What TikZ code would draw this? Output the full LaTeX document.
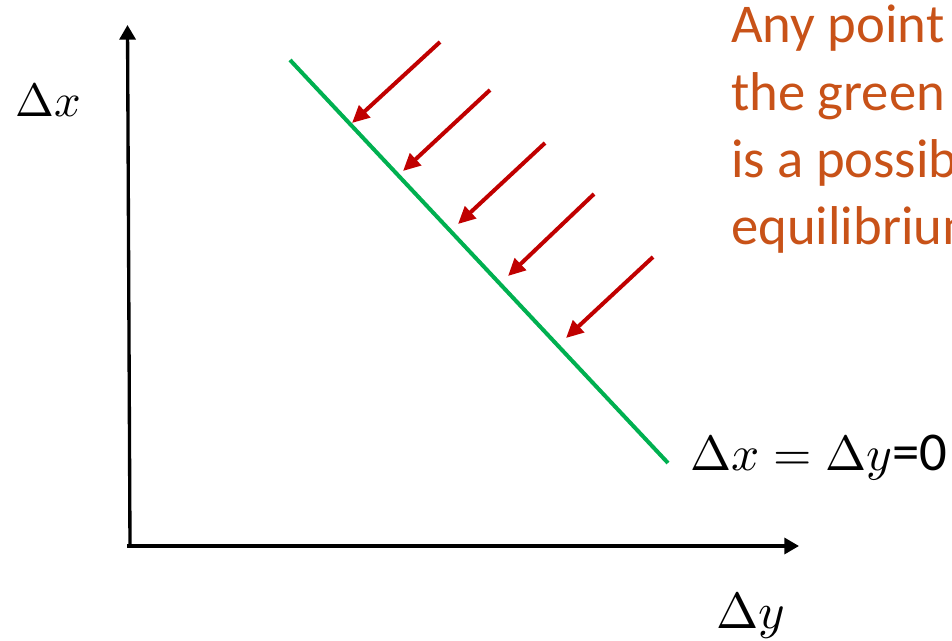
\documentclass[tikz,border=0pt]{standalone}
\usepackage{fontspec}
\usepackage{unicode-math}
\setmainfont{Carlito}
\setmathfont{Latin Modern Math}
\definecolor{EqGreen}{RGB}{0,176,80}
\definecolor{PushRed}{RGB}{192,0,0}
\definecolor{NoteOrange}{RGB}{200,82,24}
\usetikzlibrary{arrows.meta}

\begin{document}
\begin{tikzpicture}[x=0.75pt,y=-0.75pt]
\useasboundingbox (0,0) rectangle (952,641);
% axes
\coordinate (O) at (130,546);
\coordinate (xstart) at (127,546);
\coordinate (ytop) at (127.5,25);
\coordinate (xend) at (799,546);
\draw[line width=2.5pt,-{Triangle[length=11pt,width=12pt]}] (O) -- (ytop);
\draw[line width=2.5pt,-{Triangle[length=11pt,width=12pt]}] (xstart) -- (xend);
\node[anchor=base west,inner sep=0] (labx) at (15,117) {\fontsize{35}{40}\selectfont $\Delta x$};
\node[anchor=base west,inner sep=0] (laby) at (716,628) {\fontsize{38}{40}\selectfont $\Delta y$};
% line of equilibria
\coordinate (g1) at (290,60);
\coordinate (g2) at (668,463);
\draw[EqGreen,line width=3pt] (g1) -- (g2);
\node[anchor=base west,inner sep=0] (eqlab) at (690,470) {\fontsize{37}{40}\selectfont $\Delta x = \Delta y$\fontsize{41}{44}\selectfont=0};
% pushes towards the line
\foreach \i/\sx/\sy/\ex/\ey in {1/440/42/352/123, 2/490/90/403/171, 3/545/143/458/224, 4/594/194/508/276, 5/653/257/566/338} {
  \coordinate (s\i) at (\sx,\sy);
  \coordinate (t\i) at (\ex,\ey);
  \draw[PushRed,line width=3pt,-{Triangle[length=13pt,width=12pt]}] (s\i) -- (t\i);
}
\node[NoteOrange,anchor=base west,inner sep=0,align=left,font=\fontsize{41}{50.5}\selectfont] (note) at (731,245) {Any point on\\the green line\\is a possible\\equilibrium};
\end{tikzpicture}
\end{document}
